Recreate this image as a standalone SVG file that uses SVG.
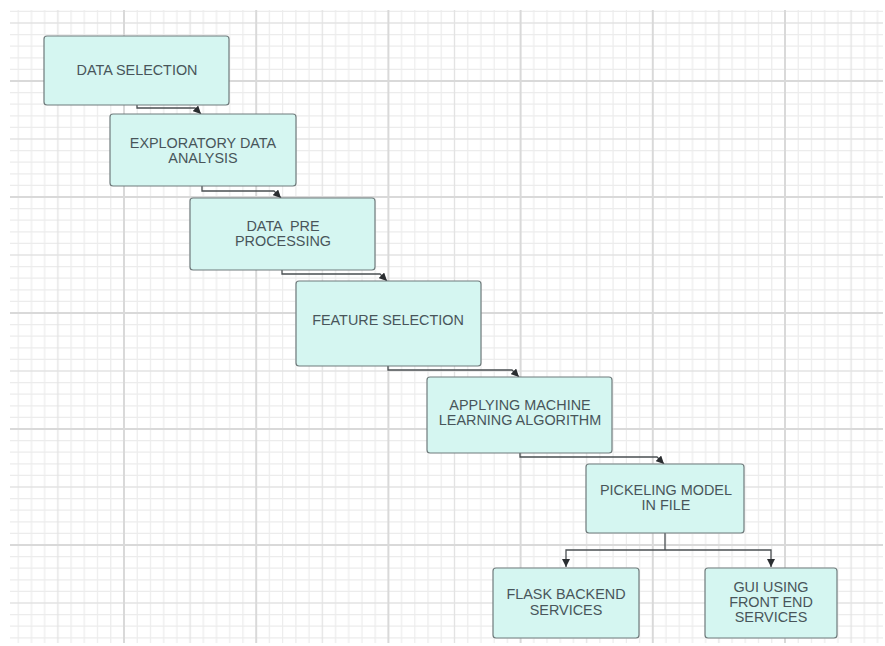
<svg xmlns="http://www.w3.org/2000/svg" width="885" height="646" viewBox="0 0 885 646">
<style>
.box{fill:#d5f6f1;stroke:#6f7b7c;stroke-width:1.2}
.lbl{font-family:"Liberation Sans",Arial,sans-serif;font-size:14.4px;fill:#48555a;text-anchor:middle}
.con{fill:none;stroke:#4a4f52;stroke-width:1.3}
.minor{stroke:#ececec;stroke-width:1.2}
.mid{stroke:#e3e3e3;stroke-width:1.4}
.major{stroke:#d9d9d9;stroke-width:2}
</style>
<defs>
<pattern id="grid" patternUnits="userSpaceOnUse" x="124" y="81" width="132.2" height="116">
<g class="minor">
<line x1="13.22" y1="0" x2="13.22" y2="116"/><line x1="26.44" y1="0" x2="26.44" y2="116"/><line x1="39.66" y1="0" x2="39.66" y2="116"/><line x1="52.88" y1="0" x2="52.88" y2="116"/>
<line x1="79.32" y1="0" x2="79.32" y2="116"/><line x1="92.54" y1="0" x2="92.54" y2="116"/><line x1="105.76" y1="0" x2="105.76" y2="116"/><line x1="118.98" y1="0" x2="118.98" y2="116"/>
<line x1="0" y1="11.6" x2="132.2" y2="11.6"/><line x1="0" y1="23.2" x2="132.2" y2="23.2"/><line x1="0" y1="34.8" x2="132.2" y2="34.8"/><line x1="0" y1="46.4" x2="132.2" y2="46.4"/>
<line x1="0" y1="69.6" x2="132.2" y2="69.6"/><line x1="0" y1="81.2" x2="132.2" y2="81.2"/><line x1="0" y1="92.8" x2="132.2" y2="92.8"/><line x1="0" y1="104.4" x2="132.2" y2="104.4"/>
</g>
<g class="mid">
<line x1="66.1" y1="0" x2="66.1" y2="116"/><line x1="0" y1="58" x2="132.2" y2="58"/>
</g>
<g class="major">
<line x1="0" y1="0" x2="0" y2="116"/><line x1="132.2" y1="0" x2="132.2" y2="116"/>
<line x1="0" y1="0" x2="132.2" y2="0"/><line x1="0" y1="116" x2="132.2" y2="116"/>
</g>
</pattern>
<marker id="arr" markerUnits="userSpaceOnUse" markerWidth="9" markerHeight="8" refX="8" refY="4" orient="auto">
<path d="M0,0 L8,4 L0,8 z" fill="#2a2d30"/>
</marker>
</defs>
<rect x="0" y="0" width="885" height="646" fill="#ffffff"/>
<rect x="10" y="10" width="873" height="633" fill="url(#grid)"/>
<g id="connectors">
<path class="con" d="M137,105 V108 H195 L201,114" marker-end="url(#arr)"/>
<path class="con" d="M202,186 V191 H274 L281,198" marker-end="url(#arr)"/>
<path class="con" d="M282,270 V274 H380 L387,281" marker-end="url(#arr)"/>
<path class="con" d="M388,366 V370 H512 L519,377" marker-end="url(#arr)"/>
<path class="con" d="M520,453 V457 H657 L664,464" marker-end="url(#arr)"/>
<path class="con" d="M665,533 V550"/>
<path class="con" d="M665,550 H566 V567" marker-end="url(#arr)"/>
<path class="con" d="M665,550 H771 V567" marker-end="url(#arr)"/>
</g>
<g id="data-selection">
<rect class="box" x="44" y="36" width="185" height="69" rx="3"/>
<text class="lbl" x="137" y="75">DATA SELECTION</text>
</g>
<g id="eda">
<rect class="box" x="110" y="114" width="186" height="72" rx="3"/>
<text class="lbl" x="203" y="148">EXPLORATORY DATA</text>
<text class="lbl" x="203" y="163">ANALYSIS</text>
</g>
<g id="preprocessing">
<rect class="box" x="190" y="198" width="185" height="72" rx="3"/>
<text class="lbl" x="283" y="231" xml:space="preserve">DATA  PRE</text>
<text class="lbl" x="283" y="246">PROCESSING</text>
</g>
<g id="feature-selection">
<rect class="box" x="296" y="281" width="185" height="85" rx="3"/>
<text class="lbl" x="388" y="325">FEATURE SELECTION</text>
</g>
<g id="ml">
<rect class="box" x="427" y="377" width="185" height="76" rx="3"/>
<text class="lbl" x="520" y="410">APPLYING MACHINE</text>
<text class="lbl" x="520" y="425">LEARNING ALGORITHM</text>
</g>
<g id="pickling">
<rect class="box" x="586" y="464" width="158" height="69" rx="3"/>
<text class="lbl" x="666" y="495">PICKELING MODEL</text>
<text class="lbl" x="666" y="510">IN FILE</text>
</g>
<g id="flask">
<rect class="box" x="493" y="568" width="146" height="70" rx="3"/>
<text class="lbl" x="566" y="599">FLASK BACKEND</text>
<text class="lbl" x="566" y="615">SERVICES</text>
</g>
<g id="gui">
<rect class="box" x="705" y="568" width="132" height="70" rx="3"/>
<text class="lbl" x="771" y="592">GUI USING</text>
<text class="lbl" x="771" y="607">FRONT END</text>
<text class="lbl" x="771" y="622">SERVICES</text>
</g>
</svg>
